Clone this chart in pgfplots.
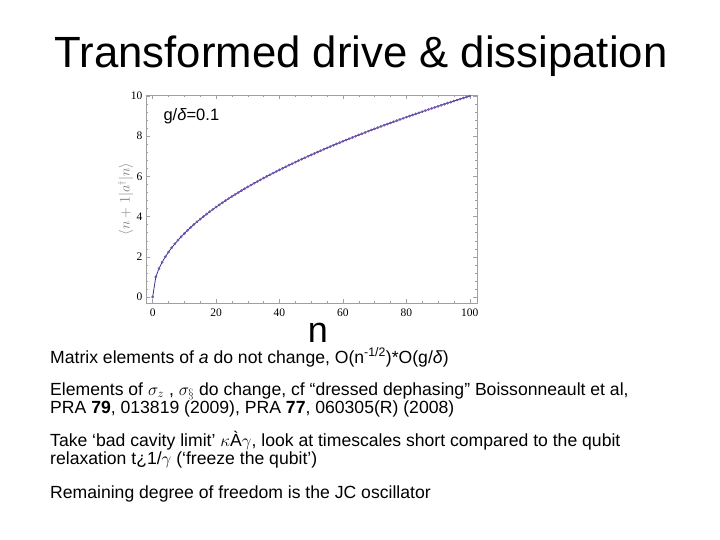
\documentclass[border=0pt]{standalone}
\usepackage{fontspec}
\setmainfont{Liberation Sans}
\newfontfamily\tickfont{Liberation Serif}
\usepackage{pgfplots}
\pgfplotsset{compat=1.18}
\definecolor{framegray}{RGB}{160,160,160}
\definecolor{linecol}{RGB}{60,50,130}
\definecolor{markcol}{RGB}{115,85,175}
\begin{document}
\begin{tikzpicture}
\path[use as bounding box,fill=white] (0,0) rectangle (720pt,-540pt);
\node[anchor=base,font=\fontsize{43.7}{48}\selectfont] at (361pt,-68pt) {Transformed drive \& dissipation};
\begin{axis}[
  at={(146pt,-303pt)}, anchor=south west,
  scale only axis, width=331pt, height=208pt,
  xmin=-2.1, xmax=102.3, ymin=-0.3, ymax=10.05,
  xtick={0,20,...,100}, ytick={0,2,...,10},
  minor x tick num=3, minor y tick num=4,
  tick align=inside,
  major tick length=4pt, minor tick length=2pt,
  axis line style={framegray},
  every tick/.style={framegray},
  /pgf/number format/assume math mode=true,
  ticklabel style={font=\tickfont\fontsize{11.5}{12}\selectfont, black},
  xticklabel style={yshift=-2pt},
  ylabel={$\langle n+1|a^\dagger|n\rangle$},
  ylabel style={font=\fontsize{13.5}{14}\selectfont, color=gray, yshift=-9pt},
  clip=false,
]
\addplot[color=linecol, line width=0.8pt, mark=*, mark size=0.9pt, mark options={markcol, draw=markcol}] coordinates {
(0,0) (1,1) (2,1.414) (3,1.732) (4,2) (5,2.236) (6,2.449) (7,2.646) (8,2.828) (9,3)
(10,3.162) (11,3.317) (12,3.464) (13,3.606) (14,3.742) (15,3.873) (16,4) (17,4.123) (18,4.243) (19,4.359)
(20,4.472) (21,4.583) (22,4.690) (23,4.796) (24,4.899) (25,5) (26,5.099) (27,5.196) (28,5.292) (29,5.385)
(30,5.477) (31,5.568) (32,5.657) (33,5.745) (34,5.831) (35,5.916) (36,6) (37,6.083) (38,6.164) (39,6.245)
(40,6.325) (41,6.403) (42,6.481) (43,6.557) (44,6.633) (45,6.708) (46,6.782) (47,6.856) (48,6.928) (49,7)
(50,7.071) (51,7.141) (52,7.211) (53,7.280) (54,7.348) (55,7.416) (56,7.483) (57,7.550) (58,7.616) (59,7.681)
(60,7.746) (61,7.810) (62,7.874) (63,7.937) (64,8) (65,8.062) (66,8.124) (67,8.185) (68,8.246) (69,8.307)
(70,8.367) (71,8.426) (72,8.485) (73,8.544) (74,8.602) (75,8.660) (76,8.718) (77,8.775) (78,8.832) (79,8.888)
(80,8.944) (81,9) (82,9.055) (83,9.110) (84,9.165) (85,9.220) (86,9.274) (87,9.327) (88,9.381) (89,9.434)
(90,9.487) (91,9.539) (92,9.592) (93,9.644) (94,9.695) (95,9.747) (96,9.798) (97,9.849) (98,9.899) (99,9.950)
(100,10)
};
\end{axis}
\node[anchor=base west,font=\fontsize{16.5}{18}\selectfont] at (160pt,-121pt) {g/\textit{δ}=0.1};
\node[anchor=base,inner sep=0pt,font=\fontsize{36}{40}\selectfont] at (318pt,-342pt) {n};
\begin{scope}[every node/.style={anchor=base west,font=\fontsize{17.6}{19}\selectfont,inner sep=0pt}]
\node at (50pt,-363pt) {Matrix elements of \textit{a} do not change, O(n\textsuperscript{-1/2})*O(g/\textit{δ})};
\node at (50pt,-395pt) {Elements of $\sigma_z$ , $\sigma_{\S}$ do change, cf “dressed dephasing” Boissonneault et al,};
\node at (50pt,-413pt) {PRA \textbf{79}, 013819 (2009), PRA \textbf{77}, 060305(R) (2008)};
\node at (50pt,-446pt) {Take ‘bad cavity limit’ $\kappa$À$\gamma$, look at timescales short compared to the qubit};
\node at (50pt,-464pt) {relaxation t¿1/$\gamma$ (‘freeze the qubit’)};
\node at (50pt,-498pt) {Remaining degree of freedom is the JC oscillator};
\end{scope}
\end{tikzpicture}
\end{document}
